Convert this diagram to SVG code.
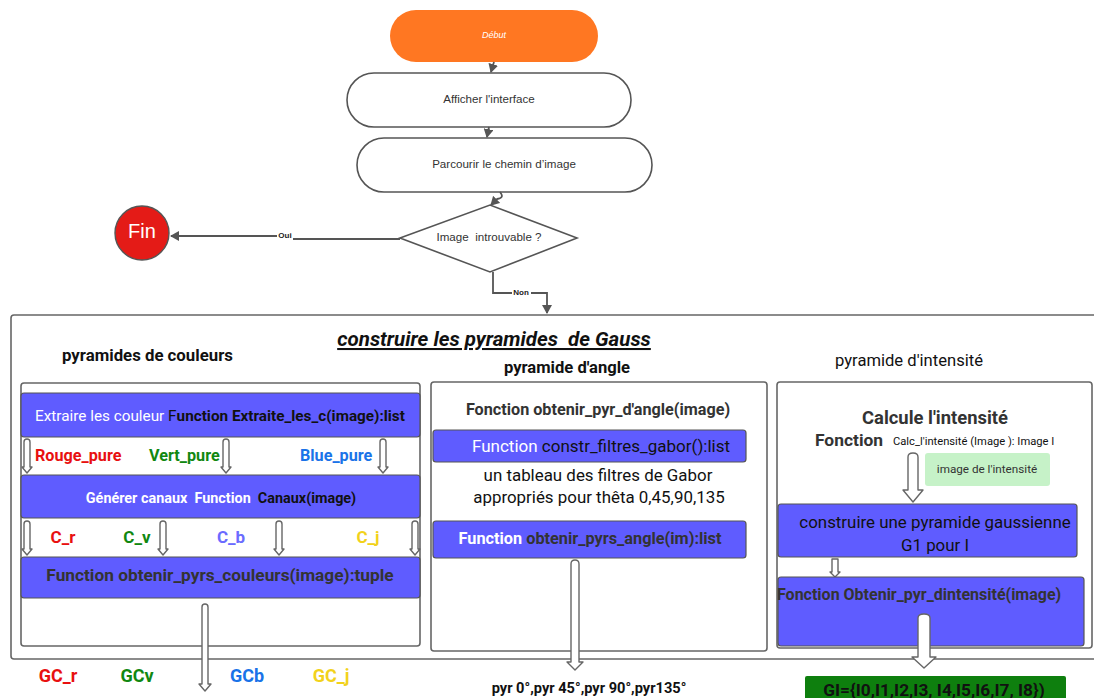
<svg xmlns="http://www.w3.org/2000/svg" width="1094" height="698" viewBox="0 0 1094 698" xml:space="preserve">
  <defs>
    <marker id="arr" markerWidth="10" markerHeight="10" refX="8" refY="5" orient="auto" markerUnits="userSpaceOnUse">
      <path d="M0,0 L9,5 L0,10 Z" fill="#555"/>
    </marker>
    <style>
      text { white-space: pre; }
      .term { fill: #fff; stroke: #555; stroke-width: 1.6; }
      .lbl { font-family: "Liberation Sans", Arial, sans-serif; font-size: 11.6px; fill: #333; text-anchor: middle; dominant-baseline: middle; }
      .conn { fill: none; stroke: #555; stroke-width: 1.8; }
      .box { fill: #fff; stroke: #666; stroke-width: 1.6; }
      .bar { fill: #5F5CFF; stroke: #555; stroke-width: 1.2; }
      .hol { fill: #fff; stroke: #666; stroke-width: 1.4; stroke-linejoin: round; }
      .r { font-family: Roboto, "Liberation Sans", sans-serif; }
      .b { font-weight: bold; }
      .mid { text-anchor: middle; }
    </style>
  </defs>

  <!-- start / process steps -->
  <g id="debut">
    <rect x="390" y="10" width="208" height="52" rx="26" fill="#FF7722"/>
    <text x="494" y="36" class="lbl" style="fill:#fff;font-style:italic;font-size:9px">Début</text>
  </g>
  <g id="afficher">
    <rect x="347" y="73" width="284" height="54" rx="27" class="term"/>
    <text x="489" y="100" class="lbl">Afficher l'interface</text>
  </g>
  <g id="parcourir">
    <rect x="357" y="138" width="295" height="54" rx="27" class="term"/>
    <text x="504" y="165" class="lbl">Parcourir le chemin d’image</text>
  </g>
  <g id="decision">
    <polygon points="400,238 490,205 577,238 490,272" class="term"/>
    <text x="489" y="238" class="lbl">Image  introuvable ?</text>
  </g>
  <g id="fin">
    <circle cx="142" cy="233" r="27" fill="#E41B17" stroke="#555" stroke-width="1.4"/>
    <text x="142" y="233" class="lbl" style="fill:#fff;font-size:20px">Fin</text>
  </g>

  <!-- connectors -->
  <g id="connectors">
    <path d="M494,62 L491,72" class="conn" marker-end="url(#arr)"/>
    <path d="M489,127 L487,137" class="conn" marker-end="url(#arr)"/>
    <path d="M500,192 Q505,198 497,199 L491,205" class="conn" marker-end="url(#arr)"/>
    <path d="M400,239 L292,239 L292,236 L171,236" class="conn" marker-end="url(#arr)"/>
    <rect x="277" y="231" width="16" height="9" fill="#fff"/>
    <text x="285" y="236" style="font-family:'Liberation Sans',Arial,sans-serif;font-size:8px;font-weight:bold;fill:#222" text-anchor="middle" dominant-baseline="middle">Oui</text>
    <path d="M493,272 L493,293 L547,293 L547,313" class="conn" marker-end="url(#arr)"/>
    <rect x="512" y="288" width="19" height="9" fill="#fff"/>
    <text x="521" y="293" style="font-family:'Liberation Sans',Arial,sans-serif;font-size:8px;font-weight:bold;fill:#222" text-anchor="middle" dominant-baseline="middle">Non</text>
  </g>

  <!-- Gauss pyramids container -->
  <g id="gauss">
    <rect x="11" y="315" width="1100" height="344" rx="3" class="box"/>
    <text x="494" y="346" class="r b mid" style="font-size:20.5px;font-style:italic;fill:#111;text-decoration:underline">construire les pyramides  de Gauss</text>
    <text x="62" y="361" class="r b" style="font-size:16.8px;fill:#111">pyramides de couleurs</text>
    <text x="567" y="373" class="r b mid" style="font-size:16.6px;fill:#111">pyramide d'angle</text>
    <text x="909" y="366" class="r mid" style="font-size:16.6px;fill:#111">pyramide d'intensité</text>
  </g>

  <!-- colour pyramid -->
  <g id="couleurs">
    <rect x="21" y="383" width="399" height="263" rx="3" class="box"/>
    <rect x="21" y="393" width="399" height="44" rx="3" class="bar"/>
    <text x="35" y="421" class="r" style="font-size:15.3px"><tspan fill="#fff">Extraire les couleur </tspan><tspan fill="#111">F</tspan><tspan fill="#111" font-weight="bold">unction Extraite_les_c(image):list</tspan></text>

    <path d="M24,442 Q24,439 27,439 Q30,439 30,442 L30,467 L32,467 L27,473 L22,467 L24,467 Z" class="hol"/>
    <path d="M223,442 Q223,439 226,439 Q229,439 229,442 L229,467 L231,467 L226,473 L221,467 L223,467 Z" class="hol"/>
    <path d="M380,442 Q380,439 383,439 Q386,439 386,442 L386,467 L388,467 L383,473 L378,467 L380,467 Z" class="hol"/>

    <text x="35" y="461" class="r b" style="font-size:16.2px;fill:#E81010">Rouge_pure</text>
    <text x="149" y="461" class="r b" style="font-size:16.2px;fill:#118811">Vert_pure</text>
    <text x="300" y="461" class="r b" style="font-size:16.2px;fill:#1A73E8">Blue_pure</text>

    <rect x="21" y="475" width="399" height="43" rx="3" class="bar"/>
    <text x="221" y="503" class="r b mid" style="font-size:14.4px"><tspan fill="#fff">Générer canaux  Function  </tspan><tspan fill="#111">Canaux(image)</tspan></text>

    <path d="M24,524 Q24,521 27,521 Q30,521 30,524 L30,549 L32,549 L27,555 L22,549 L24,549 Z" class="hol"/>
    <path d="M160,524 Q160,521 163,521 Q166,521 166,524 L166,549 L168,549 L163,555 L158,549 L160,549 Z" class="hol"/>
    <path d="M276,524 Q276,521 279,521 Q282,521 282,524 L282,549 L284,549 L279,555 L274,549 L276,549 Z" class="hol"/>
    <path d="M412,524 Q412,521 415,521 Q418,521 418,524 L418,549 L420,549 L415,555 L410,549 L412,549 Z" class="hol"/>

    <text x="63" y="543" class="r b mid" style="font-size:17px;fill:#E81010">C_r</text>
    <text x="137" y="543" class="r b mid" style="font-size:17px;fill:#118811">C_v</text>
    <text x="231" y="543" class="r b mid" style="font-size:17px;fill:#6B6BFF">C_b</text>
    <text x="368" y="543" class="r b mid" style="font-size:17px;fill:#F2D21B">C_j</text>

    <rect x="21" y="557" width="399" height="41" rx="3" class="bar"/>
    <text x="220" y="581" class="r b mid" style="font-size:17.3px;fill:#333">Function obtenir_pyrs_couleurs(image):tuple</text>

    <path d="M202,607 Q202,604 205,604 Q208,604 208,607 L208,684 L211,684 L205,691 L199,684 L202,684 Z" class="hol"/>

    <text x="58" y="682" class="r b mid" style="font-size:18px;fill:#E81010">GC_r</text>
    <text x="137" y="682" class="r b mid" style="font-size:18px;fill:#118811">GCv</text>
    <text x="247" y="682" class="r b mid" style="font-size:18px;fill:#1A73E8">GCb</text>
    <text x="331" y="682" class="r b mid" style="font-size:18px;fill:#F2D21B">GC_j</text>
  </g>

  <!-- angle pyramid -->
  <g id="angle">
    <rect x="431" y="382" width="336" height="269" rx="3" class="box"/>
    <text x="598" y="415" class="r b mid" style="font-size:16.2px;fill:#333">Fonction obtenir_pyr_d'angle(image)</text>
    <rect x="433" y="430" width="313" height="32" rx="3" class="bar"/>
    <text x="601" y="452" class="r mid" style="font-size:17px"><tspan fill="#fff">Function </tspan><tspan fill="#111">constr_filtres_gabor():list</tspan></text>
    <text x="598" y="481" class="r mid" style="font-size:16.9px;fill:#111">un tableau des filtres de Gabor</text>
    <text x="599" y="503" class="r mid" style="font-size:16.9px;fill:#111">appropriés pour thêta 0,45,90,135</text>
    <rect x="433" y="521" width="313" height="37" rx="3" class="bar"/>
    <text x="590" y="544" class="r b mid" style="font-size:16.3px"><tspan fill="#fff">Function </tspan><tspan fill="#333">obtenir_pyrs_angle(im):list</tspan></text>
    <path d="M571,564 Q571,560 575,560 Q579,560 579,564 L579,662 L583,662 L575,670 L567,662 L571,662 Z" class="hol"/>
    <text x="589" y="693" class="r b mid" style="font-size:14.6px;fill:#111">pyr 0°,pyr 45°,pyr 90°,pyr135°</text>
  </g>

  <!-- intensity pyramid -->
  <g id="intensite">
    <rect x="777" y="382" width="315" height="266" rx="3" class="box"/>
    <text x="935" y="424" class="r b mid" style="font-size:18.4px;fill:#333">Calcule l'intensité</text>
    <text x="815" y="446" class="r b" style="font-size:17.4px;fill:#333">Fonction</text>
    <text x="893" y="445" class="r" style="font-size:11.2px;fill:#111">Calc_l'intensité (Image ): Image I</text>
    <path d="M908,457 Q908,453 913,453 Q918,453 918,457 L918,490 L923,490 L913,502 L903,490 L908,490 Z" class="hol"/>
    <rect x="925" y="453" width="125" height="33" rx="3" fill="#C6F2C8"/>
    <text x="987" y="470" class="r mid" style="font-size:11.7px;fill:#333" dominant-baseline="middle">image de l'intensité</text>
    <rect x="778" y="504" width="299" height="53" rx="3" class="bar"/>
    <text x="935" y="528" class="r mid" style="font-size:16.9px;fill:#111">construire une pyramide gaussienne</text>
    <text x="935" y="551" class="r mid" style="font-size:16.9px;fill:#111">G1 pour I</text>
    <path d="M832,559 L838,559 L838,572 L840,572 L835,577 L830,572 L832,572 Z" class="hol"/>
    <rect x="778" y="577" width="306" height="69" rx="3" class="bar"/>
    <text x="777" y="600" class="r b" style="font-size:16px;fill:#333">Fonction Obtenir_pyr_dintensité(image)</text>
    <path d="M918,618 Q918,614 924,614 Q930,614 930,618 L930,657 L936,657 L924,668 L912,657 L918,657 Z" class="hol"/>
  </g>

  <g id="gi">
    <rect x="805" y="676" width="261" height="30" rx="2" fill="#0E7F0E"/>
    <text x="934" y="696" class="r b mid" style="font-size:17.3px;fill:#111">GI={I0,I1,I2,I3, I4,I5,I6,I7, I8})</text>
  </g>
</svg>
